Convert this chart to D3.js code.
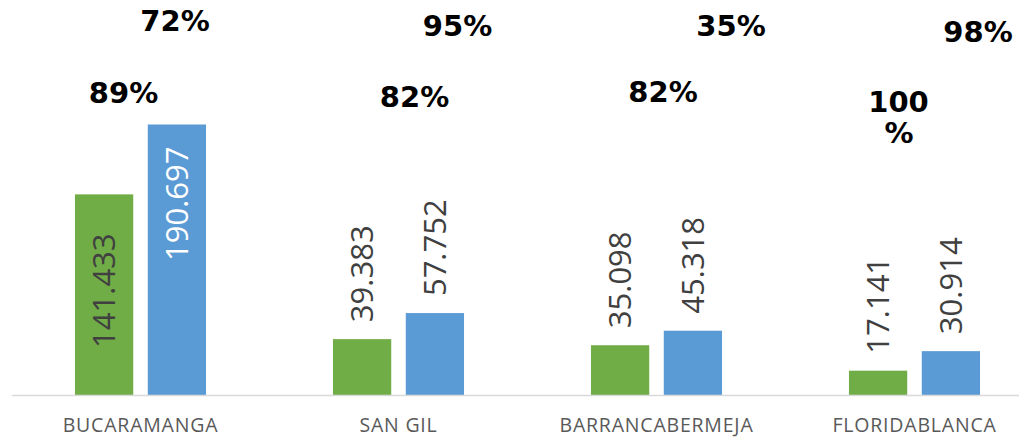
<!DOCTYPE html>
<html>
<head>
<meta charset="utf-8">
<script src="https://cdn.jsdelivr.net/npm/d3@7"></script>
<style>
  html, body { margin: 0; padding: 0; background: #fff; }
  svg { display: block; overflow: hidden; }
</style>
</head>
<body>
<svg width="1019" height="438"></svg>
<script>
// data
const categories = ['BUCARAMANGA', 'SAN GIL', 'BARRANCABERMEJA', 'FLORIDABLANCA'];
const series = ['verde', 'azul'];
const greenValues = [141.433, 39.383, 35.098, 17.141];
const blueValues = [190.697, 57.752, 45.318, 30.914];
const greenPct = ['89%', '82%', '82%', '100%'];
const bluePct = ['72%', '95%', '35%', '98%'];

// label placement (Excel had them dragged by hand)
const valueLabelMode = [['center', 'inside'], ['outside', 'outside'], ['outside', 'outside'], ['outside', 'outside']];
const greenPctNudge = [[-17, 103], [16, 107], [6.5, 102], [-16, 112]];
const bluePctNudge = [[34.5, 31], [59, 36], [74.5, 36], [63.5, 42]];

const colors = { verde: '#70ad47', azul: '#5b9bd5' };
const svg = d3.select('svg');
const baseY = 395;

const x0 = d3.scaleBand()
  .domain(categories)
  .range([11.5, 1043.5])
  .paddingInner(0.492)
  .paddingOuter(0.246);

const x1 = d3.scaleBand()
  .domain(series)
  .range([0, x0.bandwidth()])
  .paddingInner(0.2);

const y = d3.scaleLinear().domain([0, 200]).range([baseY, baseY - 283.7]);

const rows = categories.map(function (c, i) {
  return {
    cat: c,
    i: i,
    bars: [
      { key: 'verde', value: greenValues[i], mode: valueLabelMode[i][0] },
      { key: 'azul', value: blueValues[i], mode: valueLabelMode[i][1] }
    ]
  };
});

const groups = svg.append('g')
  .selectAll('g')
  .data(rows)
  .enter()
  .append('g')
  .attr('transform', function (d) { return 'translate(' + x0(d.cat) + ',0)'; });

groups.selectAll('rect')
  .data(function (d) { return d.bars; })
  .enter()
  .append('rect')
  .attr('x', function (d) { return x1(d.key); })
  .attr('y', function (d) { return y(d.value); })
  .attr('width', x1.bandwidth())
  .attr('height', function (d) { return y(0) - y(d.value); })
  .attr('fill', function (d) { return colors[d.key]; });

// axis line
const xAxis = d3.axisBottom(x0).tickSize(0).tickPadding(23);
const axisG = svg.append('g')
  .attr('transform', 'translate(0,' + baseY + ')')
  .call(xAxis);
axisG.select('.domain')
  .attr('d', 'M12,0.5H1019')
  .attr('stroke', '#d9d9d9')
  .attr('stroke-width', 1.5);
axisG.selectAll('.tick text')
  .attr('font-family', '"Open Sans", sans-serif')
  .attr('font-size', 19.5)
  .attr('letter-spacing', 0.8)
  .attr('fill', '#595959');

// value labels, rotated
function fmt(v) { return v.toFixed(3); }
groups.selectAll('text.val')
  .data(function (d) { return d.bars; })
  .enter()
  .append('text')
  .attr('class', 'val')
  .attr('font-family', '"Open Sans", sans-serif')
  .attr('font-size', 31)
  .attr('fill', function (d) { return d.mode === 'inside' ? '#ffffff' : '#404040'; })
  .attr('text-anchor', function (d) {
    if (d.mode === 'center') return 'middle';
    if (d.mode === 'inside') return 'end';
    return 'start';
  })
  .attr('dy', '0.36em')
  .attr('transform', function (d) {
    const cx = x1(d.key) + x1.bandwidth() / 2;
    let ty;
    if (d.mode === 'center') ty = (y(d.value) + y(0)) / 2 - 4;
    else if (d.mode === 'inside') ty = y(d.value) + 22;
    else ty = y(d.value) - 17;
    return 'translate(' + cx + ',' + ty + ') rotate(-90)';
  })
  .text(function (d) { return fmt(d.value); });

// percentage labels
function addPct(labels, nudges) {
  groups.append('text')
    .attr('font-family', '"DejaVu Sans", Verdana, sans-serif')
    .attr('font-weight', 'bold')
    .attr('font-size', 29)
    .attr('fill', '#000')
    .attr('text-anchor', 'middle')
    .each(function (d) {
      const t = d3.select(this);
      const lbl = labels[d.i];
      const n = nudges[d.i];
      const cx = x0.bandwidth() / 2 + n[0];
      if (lbl === '100%') {
        // wrapped in the original
        t.append('tspan').attr('x', cx).attr('y', n[1]).text('100');
        t.append('tspan').attr('x', cx + 0.5).attr('y', n[1] + 31).text('%');
      } else {
        t.attr('x', cx).attr('y', n[1]).text(lbl);
      }
    });
}
addPct(greenPct, greenPctNudge);
addPct(bluePct, bluePctNudge);
</script>
</body>
</html>
